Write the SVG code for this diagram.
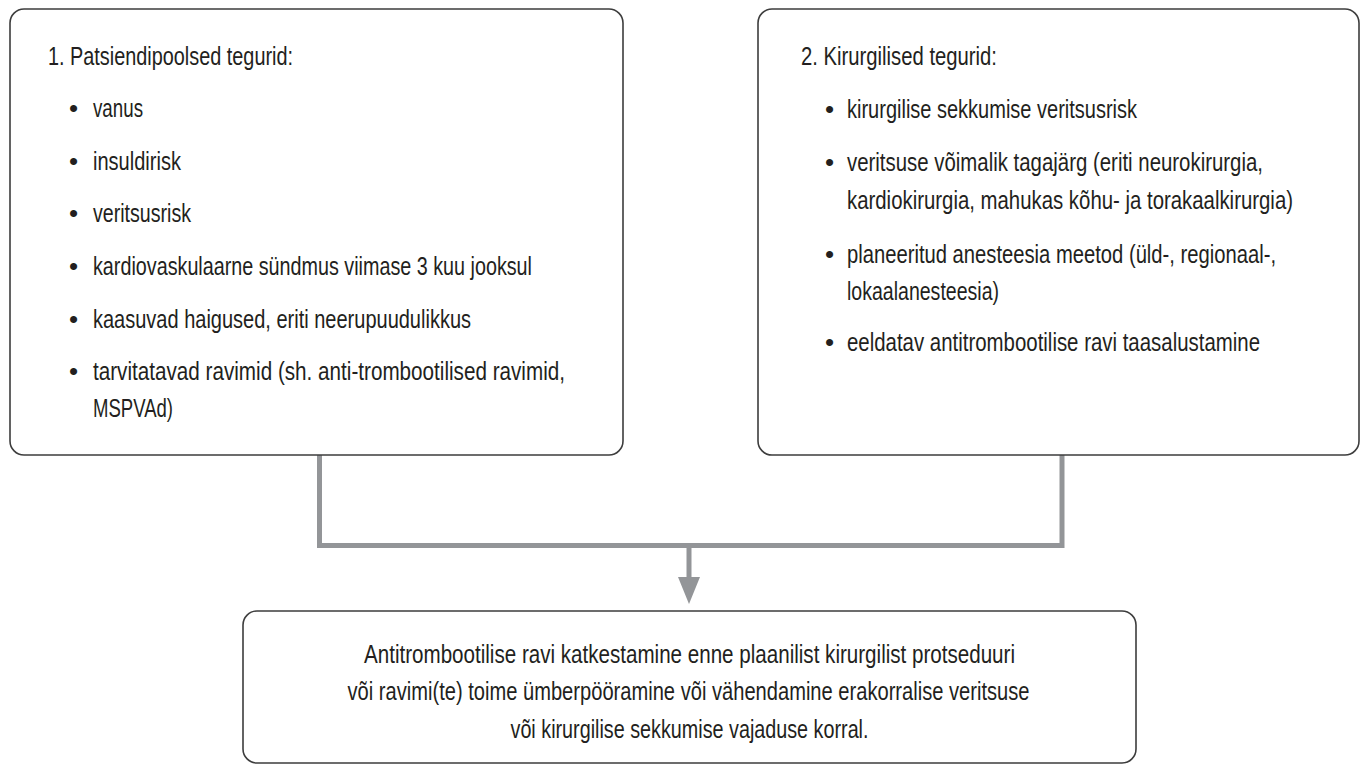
<svg xmlns="http://www.w3.org/2000/svg" width="1362" height="765" viewBox="0 0 1362 765">
  <style>
    .box { fill: #ffffff; stroke: #3d3d3d; stroke-width: 1.6; }
    .t { font-family: "Liberation Sans Narrow", "Liberation Sans", Arial, sans-serif; font-size: 26px; fill: #231f20; }
    .c { text-anchor: middle; }
    .conn { fill: none; stroke: #939598; stroke-width: 5; stroke-linejoin: miter; stroke-linecap: square; }
    .head { fill: #939598; }
  </style>
  <rect width="1362" height="765" fill="#ffffff"/>

  <g id="connectors">
    <path class="conn" d="M319.5 457 V545.5 H1062 V457"/>
    <path class="conn" d="M689 545.5 V578" stroke-linecap="butt"/>
    <polygon class="head" points="678,577 700,577 689,604"/>
  </g>

  <g id="node-patient">
    <rect class="box" x="10" y="9" width="613" height="446" rx="14" ry="14"/>
    <text class="t" x="48" y="65" textLength="245" lengthAdjust="spacingAndGlyphs">1. Patsiendipoolsed tegurid:</text>
    <text class="t c" x="73.5" y="117">•</text>
    <text class="t" x="93" y="117" textLength="50" lengthAdjust="spacingAndGlyphs">vanus</text>
    <text class="t c" x="73.5" y="170">•</text>
    <text class="t" x="93" y="170" textLength="88" lengthAdjust="spacingAndGlyphs">insuldirisk</text>
    <text class="t c" x="73.5" y="222">•</text>
    <text class="t" x="93" y="222" textLength="98" lengthAdjust="spacingAndGlyphs">veritsusrisk</text>
    <text class="t c" x="73.5" y="275">•</text>
    <text class="t" x="93" y="275" textLength="439" lengthAdjust="spacingAndGlyphs">kardiovaskulaarne sündmus viimase 3 kuu jooksul</text>
    <text class="t c" x="73.5" y="328">•</text>
    <text class="t" x="93" y="328" textLength="378" lengthAdjust="spacingAndGlyphs">kaasuvad haigused, eriti neerupuudulikkus</text>
    <text class="t c" x="73.5" y="380">•</text>
    <text class="t" x="93" y="380" textLength="472" lengthAdjust="spacingAndGlyphs">tarvitatavad ravimid (sh. anti-trombootilised ravimid,</text>
    <text class="t" x="93" y="417" textLength="80" lengthAdjust="spacingAndGlyphs">MSPVAd)</text>
  </g>

  <g id="node-surgical">
    <rect class="box" x="758" y="9" width="601" height="446" rx="14" ry="14"/>
    <text class="t" x="801" y="65" textLength="196" lengthAdjust="spacingAndGlyphs">2. Kirurgilised tegurid:</text>
    <text class="t c" x="829.5" y="118">•</text>
    <text class="t" x="847" y="118" textLength="290" lengthAdjust="spacingAndGlyphs">kirurgilise sekkumise veritsusrisk</text>
    <text class="t c" x="829.5" y="171">•</text>
    <text class="t" x="847" y="171" textLength="416" lengthAdjust="spacingAndGlyphs">veritsuse võimalik tagajärg (eriti neurokirurgia,</text>
    <text class="t" x="847" y="209" textLength="446" lengthAdjust="spacingAndGlyphs">kardiokirurgia, mahukas kõhu- ja torakaalkirurgia)</text>
    <text class="t c" x="829.5" y="263">•</text>
    <text class="t" x="847" y="263" textLength="429" lengthAdjust="spacingAndGlyphs">planeeritud anesteesia meetod (üld-, regionaal-,</text>
    <text class="t" x="847" y="300" textLength="152" lengthAdjust="spacingAndGlyphs">lokaalanesteesia)</text>
    <text class="t c" x="829.5" y="351">•</text>
    <text class="t" x="847" y="351" textLength="413" lengthAdjust="spacingAndGlyphs">eeldatav antitrombootilise ravi taasalustamine</text>
  </g>

  <g id="node-result">
    <rect class="box" x="243" y="611" width="893" height="152" rx="14" ry="14"/>
    <text class="t c" x="689.5" y="663" textLength="651" lengthAdjust="spacingAndGlyphs">Antitrombootilise ravi katkestamine enne plaanilist kirurgilist protseduuri</text>
    <text class="t c" x="688.5" y="700" textLength="682" lengthAdjust="spacingAndGlyphs">või ravimi(te) toime ümberpööramine või vähendamine erakorralise veritsuse</text>
    <text class="t c" x="689.5" y="737.5" textLength="358" lengthAdjust="spacingAndGlyphs">või kirurgilise sekkumise vajaduse korral.</text>
  </g>
</svg>
